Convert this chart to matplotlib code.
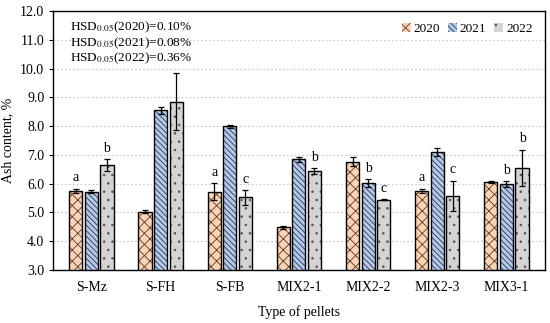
import numpy as np
import matplotlib.pyplot as plt

plt.rcParams['font.family'] = ['Liberation Serif', 'DejaVu Serif']
plt.rcParams['mathtext.fontset'] = 'stix'
plt.rcParams['hatch.linewidth'] = 0.6

pellets = ['S-Mz', 'S-FH', 'S-FB', 'MIX2-1', 'MIX2-2', 'MIX2-3', 'MIX3-1']
years = ['2020', '2021', '2022']

ash_2020 = [5.75, 5.03, 5.72, 4.48, 6.77, 5.75, 6.07]
ash_2021 = [5.72, 8.55, 8.00, 6.85, 6.02, 7.10, 5.98]
ash_2022 = [6.65, 8.85, 5.52, 6.45, 5.45, 5.58, 6.55]

sd_2020 = [0.08, 0.04, 0.30, 0.04, 0.17, 0.08, 0.04]
sd_2021 = [0.05, 0.12, 0.05, 0.08, 0.14, 0.15, 0.10]
sd_2022 = [0.20, 1.00, 0.25, 0.10, 0.02, 0.52, 0.63]

let_2020 = ['a', '', 'a', '', '', 'a', '']
let_2021 = ['', '', '', '', 'b', '', 'b']
let_2022 = ['b', '', 'c', 'b', 'c', 'c', 'b']

hsd_text = ['HSD$_{0.05}$(2020)=0.10%', 'HSD$_{0.05}$(2021)=0.08%', 'HSD$_{0.05}$(2022)=0.36%']

colors = ['#FAD3B2', '#B7C9E2', '#D4D4D4']
hatches = ['xxx', '\\\\\\\\\\\\', '..']
hatch_cols = ['#5a3a2a', '#1f3864', '#555555']

fig = plt.figure(figsize=(5.5, 3.23), dpi=100)
ax = fig.add_axes([0.097, 0.164, 0.893, 0.802])

x = np.arange(len(pellets))
w = 0.19
step = 0.225
data = [ash_2020, ash_2021, ash_2022]
errs = [sd_2020, sd_2021, sd_2022]
lets = [let_2020, let_2021, let_2022]

for i in range(3):
    xs = x + (i - 1) * step
    ax.bar(xs, data[i], w, color=colors[i], edgecolor=hatch_cols[i],
           hatch=hatches[i], linewidth=0, label=years[i], zorder=2)
    ax.bar(xs, data[i], w, color='none', edgecolor='black', linewidth=1.0, zorder=3)
    ax.errorbar(xs, data[i], yerr=errs[i], fmt='none', ecolor='black', elinewidth=0.9,
                capsize=2.5, capthick=0.9, zorder=4)
    for j in range(len(pellets)):
        if lets[i][j]:
            ax.text(xs[j], data[i][j] + errs[i][j] + 0.15, lets[i][j], ha='center', va='bottom',
                    fontsize=10)

ax.set_ylim(3.0, 12.0)
ax.set_xlim(-0.55, len(pellets) - 0.45)
ax.set_yticks(np.arange(3.0, 12.01, 1.0))
ax.set_yticklabels(['%.1f' % v for v in np.arange(3.0, 12.01, 1.0)], fontsize=10)
ax.set_xticks(x)
ax.set_xticklabels(pellets, fontsize=10)
ax.tick_params(axis='x', length=0, pad=8)
ax.tick_params(axis='y', direction='out', length=3)
ax.yaxis.grid(True, linestyle=(0, (1.5, 2)), color='#c8c8c8', linewidth=0.8, zorder=0)
ax.set_axisbelow(True)
for s in ax.spines.values():
    s.set_linewidth(1.0)

ax.set_xlabel('Type of pellets', fontsize=10, labelpad=8)
ax.set_ylabel('Ash content, %', fontsize=10)

for k, t in enumerate(hsd_text):
    ax.text(0.033, 0.965 - k * 0.059, t, transform=ax.transAxes, ha='left', va='top', fontsize=9.5)

ax.legend(ncol=3, frameon=False, loc='upper right', fontsize=9.5, handlelength=0.7,
          handleheight=0.7, handletextpad=0.2, columnspacing=0.6, borderaxespad=0.5)

fig.savefig('out.png', dpi=100)
